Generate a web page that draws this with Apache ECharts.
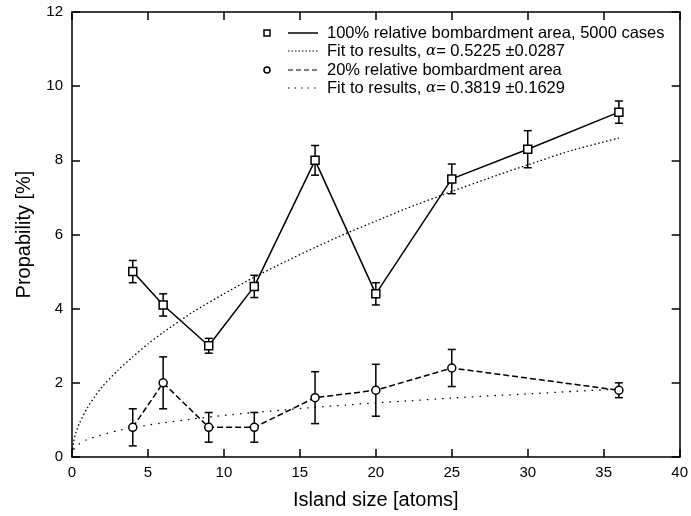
<!DOCTYPE html>
<html>
<head>
<meta charset="utf-8">
<script src="https://cdn.jsdelivr.net/npm/echarts@6/dist/echarts.min.js"></script>
<style>
  html, body { margin: 0; padding: 0; background: #fff; }
  #main { width: 691px; height: 516px; }
</style>
</head>
<body>
<div id="main"></div>
<script>
// 100% area data (squares)
var size100 = [4, 6, 9, 12, 16, 20, 25, 30, 36];
var prob100 = [5.0, 4.1, 3.0, 4.6, 8.0, 4.4, 7.5, 8.3, 9.3];
var err100 = [0.3, 0.3, 0.2, 0.3, 0.4, 0.3, 0.4, 0.5, 0.3];
// 20% area data (circles)
var size20 = [4, 6, 9, 12, 16, 20, 25, 36];
var prob20 = [0.8, 2.0, 0.8, 0.8, 1.6, 1.8, 2.4, 1.8];
var err20 = [0.5, 0.7, 0.4, 0.4, 0.7, 0.7, 0.5, 0.2];
// fit curves
var fitX = [0, 0.1, 0.25, 0.5, 1, 1.5, 2, 3, 4, 5, 6, 8, 10, 12, 14, 16, 18, 20, 22, 25, 28, 30, 33, 36];
var fit100 = [0, 0.4, 0.65, 0.92, 1.32, 1.63, 1.9, 2.33, 2.7, 3.05, 3.36, 3.92, 4.4, 4.85, 5.26, 5.65, 6.02, 6.36, 6.7, 7.16, 7.6, 7.88, 8.28, 8.6];
var fit20 = [0, 0.19, 0.28, 0.36, 0.47, 0.54, 0.6, 0.71, 0.79, 0.86, 0.92, 1.03, 1.12, 1.2, 1.27, 1.34, 1.4, 1.46, 1.51, 1.59, 1.66, 1.7, 1.77, 1.83];

var FONT = '"Liberation Sans", Arial, Helvetica, sans-serif';

function pairs(xs, ys) {
  return xs.map(function (x, i) { return [x, ys[i]]; });
}
function errData(xs, ys, es) {
  return xs.map(function (x, i) { return [x, ys[i] - es[i], ys[i] + es[i]]; });
}
function errSeries(data) {
  return {
    type: 'custom',
    data: data,
    z: 3,
    renderItem: function (params, api) {
      var lo = api.coord([api.value(0), api.value(1)]);
      var hi = api.coord([api.value(0), api.value(2)]);
      var w = 4;
      var st = { stroke: '#000', lineWidth: 1.5 };
      return {
        type: 'group',
        children: [
          { type: 'line', shape: { x1: lo[0], y1: lo[1], x2: hi[0], y2: hi[1] }, style: st },
          { type: 'line', shape: { x1: lo[0] - w, y1: lo[1], x2: lo[0] + w, y2: lo[1] }, style: st },
          { type: 'line', shape: { x1: hi[0] - w, y1: hi[1], x2: hi[0] + w, y2: hi[1] }, style: st }
        ]
      };
    }
  };
}

var axisCommon = {
  type: 'value',
  axisLine: { show: true, onZero: false, lineStyle: { color: '#000', width: 1.5 } },
  axisTick: { show: true, inside: true, length: 8, lineStyle: { color: '#000', width: 1.5 } },
  splitLine: { show: false },
  axisLabel: { color: '#000', fontFamily: FONT, fontSize: 15 }
};

var myChart = echarts.init(document.getElementById('main'));

// legend drawn by hand: symbol sample, line sample, text
var legendRows = [
  { y: 33, sym: 'rect', dash: 'solid', text: '100% relative bombardment area, 5000 cases' },
  { y: 51, sym: null, dash: [1.5, 2], rich: ['Fit to results, ', '= 0.5225 ±0.0287'] },
  { y: 70, sym: 'circle', dash: [5, 3], text: '20% relative bombardment area' },
  { y: 88, sym: null, dash: [1.5, 5], rich: ['Fit to results, ', '= 0.3819 ±0.1629'] }
];
var legendGraphics = [];
legendRows.forEach(function (r) {
  if (r.sym === 'rect') {
    legendGraphics.push({ type: 'rect', shape: { x: 264, y: r.y - 3, width: 6, height: 6 }, style: { fill: 'none', stroke: '#000', lineWidth: 1.5 } });
  } else if (r.sym === 'circle') {
    legendGraphics.push({ type: 'circle', shape: { cx: 267, cy: r.y, r: 3 }, style: { fill: 'none', stroke: '#000', lineWidth: 1.5 } });
  }
  legendGraphics.push({ type: 'line', shape: { x1: 288, y1: r.y, x2: 318, y2: r.y }, style: { stroke: '#000', lineWidth: r.dash === 'solid' ? 1.5 : 1.2, lineDash: r.dash === 'solid' ? null : r.dash } });
  var txt = r.text ? '{t|' + r.text + '}' : '{t|' + r.rich[0] + '}{a|α}{t|' + r.rich[1] + '}';
  legendGraphics.push({
    type: 'text', x: 327, y: r.y,
    style: {
      text: txt, verticalAlign: 'middle', fill: '#000',
      rich: {
        t: { fontFamily: FONT, fontSize: 16.5, fill: '#000' },
        a: { fontFamily: '"DejaVu Serif", serif', fontStyle: 'italic', fontSize: 15, fill: '#000' }
      }
    }
  });
});

var option = {
  backgroundColor: '#fff',
  animation: false,
  grid: { left: 72, right: 8, top: 12, bottom: 59 },
  xAxis: [
    Object.assign({}, axisCommon, {
      min: 0, max: 40, interval: 5,
      name: 'Island size [atoms]', nameLocation: 'middle', nameGap: 33,
      nameTextStyle: { color: '#000', fontFamily: FONT, fontSize: 20 },
      axisLabel: Object.assign({}, axisCommon.axisLabel, { margin: 8 })
    }),
    Object.assign({}, axisCommon, {
      position: 'top', min: 0, max: 40, interval: 5, axisLabel: { show: false }
    })
  ],
  yAxis: [
    Object.assign({}, axisCommon, {
      min: 0, max: 12, interval: 2,
      name: 'Propability [%]', nameLocation: 'middle', nameGap: 38,
      nameTextStyle: { color: '#000', fontFamily: FONT, fontSize: 20 },
      axisLabel: Object.assign({}, axisCommon.axisLabel, { margin: 9 })
    }),
    Object.assign({}, axisCommon, {
      position: 'right', min: 0, max: 12, interval: 2, axisLabel: { show: false }
    })
  ],
  series: [
    {
      name: '100%', type: 'line', data: pairs(size100, prob100),
      symbol: 'rect', symbolSize: 8, z: 4,
      itemStyle: { color: '#fff', borderColor: '#000', borderWidth: 1.5 },
      lineStyle: { color: '#000', width: 1.5 }
    },
    errSeries(errData(size100, prob100, err100)),
    {
      name: 'fit100', type: 'line', data: pairs(fitX, fit100),
      symbol: 'none', smooth: 0.2,
      lineStyle: { color: '#000', width: 1.3, type: [1.5, 2.5] }
    },
    {
      name: '20%', type: 'line', data: pairs(size20, prob20),
      symbol: 'circle', symbolSize: 8, z: 4,
      itemStyle: { color: '#fff', borderColor: '#000', borderWidth: 1.5 },
      lineStyle: { color: '#000', width: 1.5, type: [6, 3] }
    },
    errSeries(errData(size20, prob20, err20)),
    {
      name: 'fit20', type: 'line', data: pairs(fitX, fit20),
      symbol: 'none', smooth: 0.2,
      lineStyle: { color: '#000', width: 1.3, type: [1.5, 6] }
    }
  ],
  graphic: legendGraphics
};

myChart.setOption(option);
</script>
</body>
</html>
